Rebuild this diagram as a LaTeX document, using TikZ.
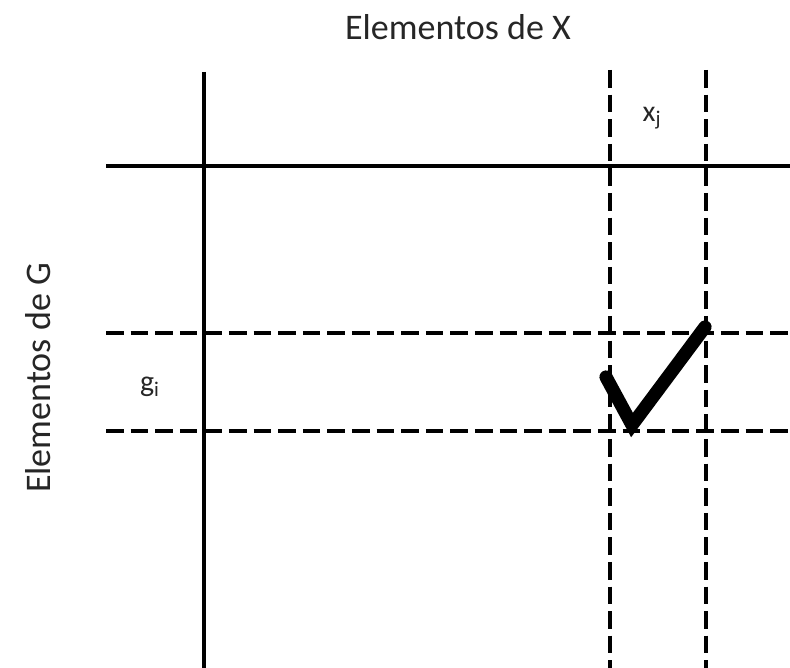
\documentclass[tikz,border=0pt]{standalone}
\usepackage{fontspec}
\setmainfont{Carlito}
\usetikzlibrary{positioning}

\tikzset{
  solidline/.style={line width=2.6pt},
  dashline/.style={line width=2.8pt,dash pattern=on 10pt off 4pt},
  tickmark/.style={line width=7.5pt,line cap=round,line join=miter},
  bigtext/.style={text=black!85,font=\fontsize{20.5}{24}\selectfont},
  celltext/.style={text=black!85,font=\fontsize{17}{20}\selectfont}
}

\begin{document}
\begin{tikzpicture}[x=0.02cm,y=-0.02cm]
  \useasboundingbox (0,0) rectangle (790,668);
  %% axis titles
  \node[bigtext] (titleX) at (458,27) {Elementos de X};
  \node[bigtext,rotate=90] (titleG) at (38,378) {Elementos de G};
  %% solid frame lines
  \coordinate (vtop) at (204,72);
  \coordinate (vbot) at (204,668);
  \coordinate (hleft) at (106,166);
  \coordinate (hright) at (790,166);
  \draw[solidline] (vtop) -- (vbot);
  \draw[solidline] (hleft) -- (hright);
  %% column x_j (dashed)
  \coordinate (ca) at (610,70);
  \coordinate (cb) at (610,668);
  \coordinate (cc) at (706,70);
  \coordinate (cd) at (706,668);
  \draw[dashline] (ca) -- (cb);
  \draw[dashline] (cc) -- (cd);
  %% row g_i (dashed)
  \coordinate (ra) at (106,333);
  \coordinate (rb) at (790,333);
  \coordinate (rc) at (106,431);
  \coordinate (rd) at (790,431);
  \draw[dashline] (ra) -- (rb);
  \draw[dashline] (rc) -- (rd);
  %% labels of the cell
  \node[celltext] (xj) at (652,118) {x\textsubscript{j}};
  \node[celltext] (gi) at (150,387) {g\textsubscript{i}};
  %% check mark
  \coordinate (ck1) at (606,377);
  \coordinate (ck2) at (632,425);
  \coordinate (ck3) at (705,327);
  \draw[tickmark] (ck1) -- (ck2) -- (ck3);
\end{tikzpicture}
\end{document}
